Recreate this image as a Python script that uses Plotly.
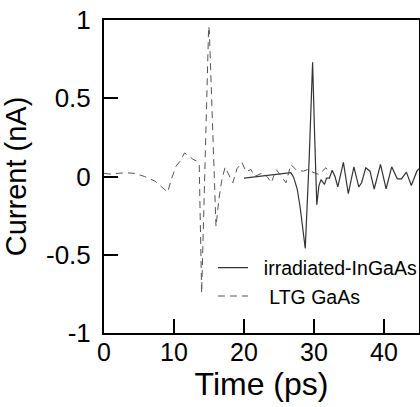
import plotly.graph_objects as go

# LTG GaAs (dashed)
ltg_t = [0, 1, 2, 3, 4.4, 5.8, 7.3, 8.7, 9.1, 9.6, 10.3, 10.9, 11.5, 12.2, 12.7, 13.2,
         13.6, 13.95, 14.45, 14.95, 15.05, 15.5, 16.0, 16.4, 16.8, 17.3, 17.9, 18.4,
         19.0, 19.7, 20.3, 21.0, 21.5, 22.1, 22.7, 23.3, 23.9, 24.6, 25.3, 26.0, 26.7,
         27.5, 28.5, 29.1, 30.0, 30.7, 31.7, 32.2]
ltg_v = [0.02, 0.015, 0.02, 0.024, 0.02, 0.0, -0.03, -0.083, -0.1, -0.02, 0.066, 0.1,
         0.15, 0.13, 0.11, 0.1, 0.08, -0.745, 0.1, 0.96, 0.93, 0.3, -0.32, -0.15, -0.03,
         0.06, 0.0, -0.04, 0.05, 0.09, 0.03, 0.045, 0.0, 0.01, 0.024, 0.0, -0.04, 0.045,
         0.0, -0.04, 0.077, 0.04, 0.034, 0.045, 0.024, 0.013, 0.056, 0.02]

# irradiated-InGaAs (solid)
irr_t = [20.0, 21.0, 22.0, 23.0, 24.0, 25.0, 26.0, 26.7, 27.1, 27.6, 28.0, 28.3, 28.75,
         29.3, 29.8, 30.1, 30.4, 30.7, 31.0, 31.5, 31.8, 32.2, 32.6, 33.0, 33.4, 34.2,
         34.9, 35.7, 36.4, 36.8, 37.4, 38.0, 38.6, 39.5, 40.3, 41.1, 41.9, 42.5, 43.2,
         43.9, 44.7, 45.0]
irr_v = [-0.01, -0.005, 0.0, 0.005, 0.007, 0.012, 0.02, 0.024, -0.006, -0.08, -0.19,
         -0.3, -0.46, 0.1, 0.73, 0.25, -0.18, -0.06, -0.02, -0.05, -0.01, -0.01, 0.04,
         0.0, -0.066, 0.09, -0.11, 0.062, -0.066, -0.04, 0.056, 0.034, -0.08, 0.077,
         -0.079, 0.062, -0.015, -0.015, 0.028, -0.058, 0.034, 0.05]

x_ticks = [0, 10, 20, 30, 40]
y_ticks = [-1, -0.5, 0, 0.5, 1]
y_tick_labels = ["-1", "-0.5", "0", "0.5", "1"]

fig = go.Figure()
fig.add_trace(go.Scatter(
    x=irr_t, y=irr_v, mode="lines", name="\u00a0\u00a0irradiated-InGaAs",
    line=dict(color="#333333", width=1.2), legendgroup="a"))
fig.add_trace(go.Scatter(
    x=ltg_t, y=ltg_v, mode="lines", name="\u00a0\u00a0\u00a0LTG GaAs",
    line=dict(color="#555555", width=1, dash="7px,5px"), legendgroup="b"))

font = "Liberation Sans, Arial, sans-serif"
fig.update_layout(
    width=420, height=407,
    margin=dict(l=104, r=1, t=20, b=74, autoexpand=False),
    paper_bgcolor="white", plot_bgcolor="white",
    font=dict(family=font, color="black"),
    showlegend=True,
    legend=dict(x=0.346, xanchor="left", y=0.27, yanchor="top",
                bgcolor="rgba(0,0,0,0)", font=dict(size=19.5, family=font),
                traceorder="grouped", tracegroupgap=0, itemwidth=30),
    xaxis=dict(range=[0, 45], tickvals=x_ticks, ticks="inside", ticklen=14,
               tickwidth=2, tickcolor="black", showline=True, linecolor="black",
               linewidth=2, mirror=True, showgrid=False, zeroline=False,
               tickfont=dict(size=25), ticklabelstandoff=-4,
               title=dict(text="Time (ps)", font=dict(size=32), standoff=2)),
    yaxis=dict(range=[-1, 1], tickvals=y_ticks, ticktext=y_tick_labels, ticks="inside",
               ticklen=14, tickwidth=2, tickcolor="black", showline=True,
               linecolor="black", linewidth=2, mirror=True, showgrid=False,
               zeroline=False, tickfont=dict(size=26), ticklabelstandoff=6,
               title=dict(text="Current (nA)", font=dict(size=29), standoff=17)),
)
fig.write_html("out.html",
               config={"displayModeBar": False, "responsive": False},
               post_script="document.body.style.margin='0';")
